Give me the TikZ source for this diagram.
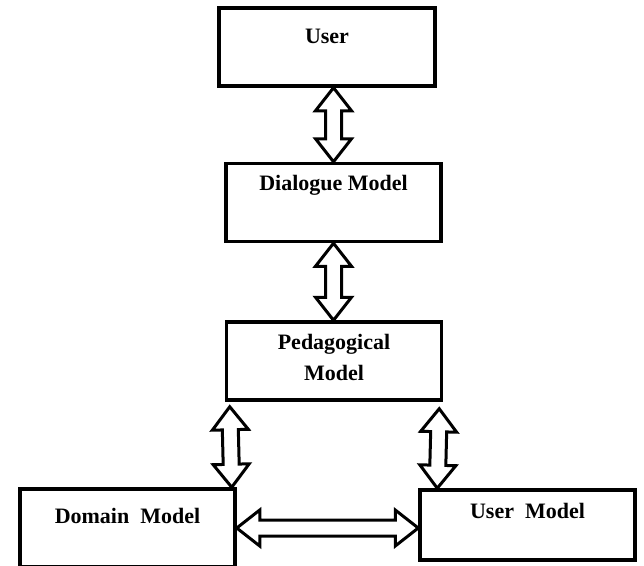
\documentclass[tikz,border=0pt]{standalone}
\usepackage{fontspec}
\setmainfont{Liberation Serif}
\usetikzlibrary{calc, positioning}

\begin{document}
\begin{tikzpicture}[x=1pt,y=1pt,on grid]
    \tikzstyle{box}=[draw, line width=3.5pt, minimum width=215pt, minimum height=78pt, inner sep=0pt, align=center, font=\bfseries\fontsize{22}{31}\selectfont]
    \tikzstyle{dblarrow}=[draw, fill=white, line width=3pt, line join=miter,
      to path={(\tikztostart)
        -- ($($(\tikztostart)!23pt!(\tikztotarget)$)!18pt!90:(\tikztotarget)$)
        -- ($($(\tikztostart)!23pt!(\tikztotarget)$)!8pt!90:(\tikztotarget)$)
        -- ($($(\tikztotarget)!23pt!(\tikztostart)$)!8pt!-90:(\tikztostart)$)
        -- ($($(\tikztotarget)!23pt!(\tikztostart)$)!18pt!-90:(\tikztostart)$)
        -- (\tikztotarget)
        -- ($($(\tikztotarget)!23pt!(\tikztostart)$)!18pt!90:(\tikztostart)$)
        -- ($($(\tikztotarget)!23pt!(\tikztostart)$)!8pt!90:(\tikztostart)$)
        -- ($($(\tikztostart)!23pt!(\tikztotarget)$)!8pt!-90:(\tikztotarget)$)
        -- ($($(\tikztostart)!23pt!(\tikztotarget)$)!18pt!-90:(\tikztotarget)$)
        -- cycle}]

    \useasboundingbox (0,0) rectangle (644,-565);

    \node[box, minimum width=216pt, text depth=21pt] (user) at (327,-47) {User};
    \node[box, below=155.5pt of user, xshift=6.5pt, text depth=40pt] (dialog) {Dialogue Model};
    \node[box, below=158.5pt of dialog, xshift=0.5pt, text depth=8pt] (ped) {Pedagogical\\Model};

    \node[box, below left=167pt and 206.5pt of ped, text depth=25pt] (dom) {Domain~ Model};
    \node[box, below right=164pt and 193.5pt of ped, minimum height=70pt, text depth=29pt] (um) {User~ Model};

    \draw[dblarrow] (user.south -| dialog.north) to (dialog.north);
    \draw[dblarrow] (dialog.south) to (dialog.south |- ped.north);
    \draw[dblarrow] ([xshift=5pt,yshift=-5pt]ped.south west) to ([xshift=-5pt]dom.north east);
    \draw[dblarrow] ([xshift=-4pt,yshift=-7pt]ped.south east) to ([xshift=19pt]um.north west);
    \draw[dblarrow] (dom.east) to (dom.east -| um.west);

  \end{tikzpicture}
\end{document}
